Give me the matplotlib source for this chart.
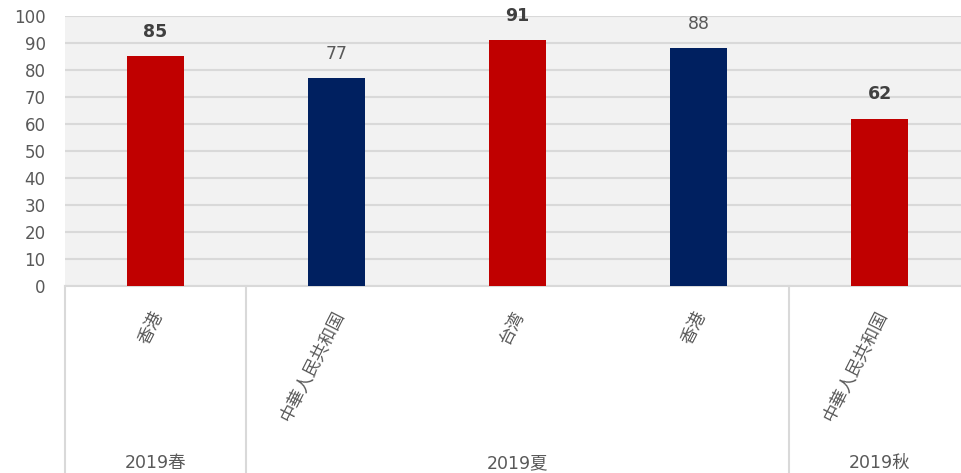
import matplotlib.pyplot as plt
from matplotlib.transforms import offset_copy

plt.rcParams['font.family'] = ['DejaVu Sans', 'Noto Sans CJK JP']

# --- Data ---
categories = ["香港", "中華人民共和国", "台湾", "香港", "中華人民共和国"]
values = [85, 77, 91, 88, 62]
bar_colors = ["#c00000", "#002060", "#c00000", "#002060", "#c00000"]
label_bold = [True, False, True, False, True]
groups = ["2019春", "2019夏", "2019秋"]
group_sizes = [1, 3, 1]
yticks = list(range(0, 101, 10))

GRID = "#d9d9d9"
TEXT = "#595959"

W, H = 961, 473
fig = plt.figure(figsize=(W / 100, H / 100), dpi=100)
# plot area runs past the right edge of the picture, as in the source
ax = fig.add_axes([65 / W, (H - 286) / H, 905 / W, 270 / H])
ax.set_facecolor("#f2f2f2")

x = list(range(len(categories)))
ax.bar(x, values, width=0.315, color=bar_colors, zorder=3)

for xi, v, b in zip(x, values, label_bold):
    ax.annotate(str(v), (xi, v), xytext=(0, 17.5), textcoords="offset points",
                ha="center", va="center", fontsize=12.5,
                fontweight="bold" if b else "normal",
                color="#404040" if b else TEXT)

ax.set_xlim(-0.5, len(categories) - 0.5)
ax.set_ylim(0, 100)
ax.set_yticks(yticks)
ax.yaxis.grid(True, color=GRID, linewidth=1.5, zorder=0)
ax.set_axisbelow(True)
ax.tick_params(axis="y", length=0, pad=14, labelsize=12, labelcolor=TEXT)
ax.set_xticks([])
for s in ["top", "right", "left"]:
    ax.spines[s].set_visible(False)
ax.spines["bottom"].set_color(GRID)
ax.spines["bottom"].set_linewidth(1.5)

trans = ax.get_xaxis_transform()
ybot = -187 / 270

# rotated category labels
lab_trans = offset_copy(trans, fig=fig, x=3, y=-26, units="dots")
for xi, c in zip(x, categories):
    ax.text(xi, 0, c, transform=lab_trans, rotation=63, rotation_mode="anchor",
            ha="right", va="center", fontsize=12.5, color=TEXT)

# group separators and labels
start = 0
edges = [-0.5]
for g, n in zip(groups, group_sizes):
    mid = start + (n - 1) / 2
    ax.text(mid, ybot, g, transform=offset_copy(trans, fig=fig, y=10, units="dots"),
            ha="center", va="center", fontsize=12.5, color=TEXT)
    start += n
    edges.append(start - 0.5)
for e in edges:
    ax.plot([e, e], [0, ybot], transform=trans, color=GRID, linewidth=1.5,
            clip_on=False)

fig.savefig("out.png", dpi=100)
